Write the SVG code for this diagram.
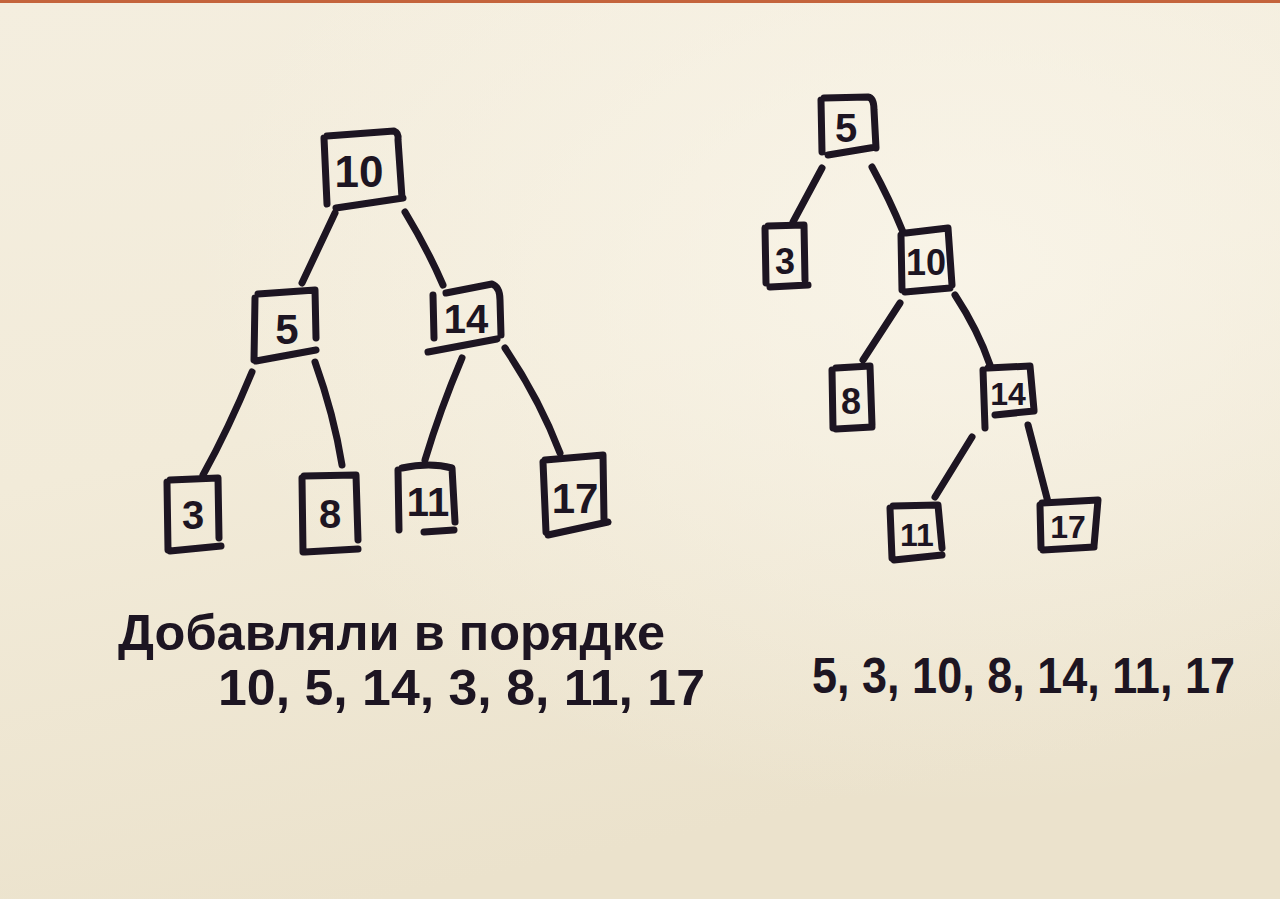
<svg xmlns="http://www.w3.org/2000/svg" width="1280" height="899" viewBox="0 0 1280 899">
<defs>
<linearGradient id="paper" x1="0" y1="0" x2="0.3" y2="1">
<stop offset="0" stop-color="#f4eedf"/>
<stop offset="0.5" stop-color="#f2ebd9"/>
<stop offset="1" stop-color="#ebe2cc"/>
</linearGradient>
<radialGradient id="light" cx="0.75" cy="0.3" r="0.6">
<stop offset="0" stop-color="#faf6eb" stop-opacity="0.8"/>
<stop offset="1" stop-color="#faf6eb" stop-opacity="0"/>
</radialGradient>
<style>
.ink{fill:none;stroke:#1d1522;stroke-width:7;stroke-linecap:round;stroke-linejoin:round}
.num{font-family:"Liberation Sans",Arial,sans-serif;font-weight:bold;fill:#1d1522;text-anchor:middle}
.hand{font-family:"Liberation Sans",Arial,sans-serif;font-weight:bold;fill:#1d1522}
</style>
</defs>
<rect x="0" y="0" width="1280" height="899" fill="url(#paper)"/>
<rect x="0" y="0" width="1280" height="899" fill="url(#light)"/>
<rect x="0" y="0" width="1280" height="3" fill="#c4643c"/>

<g id="connectors">
<path class="ink" d="M335 213 L302 283"/>
<path class="ink" d="M405 212 Q428 250 443 285"/>
<path class="ink" d="M252 372 Q228 430 203 475"/>
<path class="ink" d="M315 362 Q334 415 342 465"/>
<path class="ink" d="M462 358 Q440 410 425 460"/>
<path class="ink" d="M505 348 Q540 400 560 453"/>
<path class="ink" d="M822 168 L793 222"/>
<path class="ink" d="M872 167 Q890 200 903 232"/>
<path class="ink" d="M900 303 L863 360"/>
<path class="ink" d="M955 295 Q978 330 990 365"/>
<path class="ink" d="M972 437 L935 497"/>
<path class="ink" d="M1028 425 L1048 502"/>
</g>

<g id="L10"><path class="ink" d="M324 138 L327 204 M327 136 L394 131 Q399 133 398 140 L402 198 M336 208 L403 198"/><text class="num" x="359" y="187" font-size="44">10</text></g>
<g id="L5"><path class="ink" d="M255 298 L254 360 M258 294 L315 290 L316 338 M256 361 L316 350"/><text class="num" x="287" y="344" font-size="42">5</text></g>
<g id="L14"><path class="ink" d="M433 295 L434 338 M446 293 L492 284 Q500 287 500 300 L501 335 M428 352 L497 339"/><text class="num" x="466" y="333" font-size="40">14</text></g>
<g id="L3"><path class="ink" d="M167 482 L168 550 M170 480 L218 478 L219 538 M170 551 L221 546"/><text class="num" x="193" y="529" font-size="40">3</text></g>
<g id="L8"><path class="ink" d="M302 478 L303 552 M304 476 L356 475 L358 540 M305 552 L358 549"/><text class="num" x="330" y="528" font-size="40">8</text></g>
<g id="L11"><path class="ink" d="M398 470 L399 530 M402 468 Q430 462 452 468 L455 522 M424 532 L454 530"/><text class="num" x="428" y="516" font-size="40">11</text></g>
<g id="L17"><path class="ink" d="M543 462 L546 532 M545 460 L603 455 L604 520 M548 535 L608 522"/><text class="num" x="575" y="513" font-size="42">17</text></g>

<g id="R5"><path class="ink" d="M821 100 L822 152 M824 98 L868 97 Q874 98 874 110 L876 148 M828 155 L876 147"/><text class="num" x="846" y="142" font-size="40">5</text></g>
<g id="R3"><path class="ink" d="M765 228 L766 283 M768 226 L804 225 L805 280 M770 287 L808 285"/><text class="num" x="785" y="274" font-size="36">3</text></g>
<g id="R10"><path class="ink" d="M901 235 L902 290 M906 233 L948 228 L952 285 M905 292 L950 288"/><text class="num" x="926" y="275" font-size="36">10</text></g>
<g id="R8"><path class="ink" d="M832 370 L833 428 M836 368 L870 366 L872 425 M836 429 L872 427"/><text class="num" x="851" y="414" font-size="36">8</text></g>
<g id="R14"><path class="ink" d="M983 370 L985 428 M988 368 L1030 366 L1034 410 M995 415 L1034 411"/><text class="num" x="1008" y="405" font-size="32">14</text></g>
<g id="R11"><path class="ink" d="M890 508 L892 558 M893 506 L938 505 L942 548 M894 560 L942 555"/><text class="num" x="917" y="546" font-size="32">11</text></g>
<g id="R17"><path class="ink" d="M1040 505 L1041 548 M1042 503 L1098 500 L1094 546 M1043 550 L1094 547"/><text class="num" x="1068" y="538" font-size="32">17</text></g>

<g id="caption-left">
<text class="hand" x="118" y="650" font-size="50" textLength="547" lengthAdjust="spacingAndGlyphs">Добавляли  в порядке</text>
<text class="hand" x="218" y="705" font-size="50" textLength="487" lengthAdjust="spacingAndGlyphs">10, 5, 14, 3, 8, 11, 17</text>
</g>
<g id="caption-right">
<text class="hand" x="812" y="693" font-size="50" textLength="423" lengthAdjust="spacingAndGlyphs">5, 3, 10, 8, 14, 11, 17</text>
</g>
</svg>
